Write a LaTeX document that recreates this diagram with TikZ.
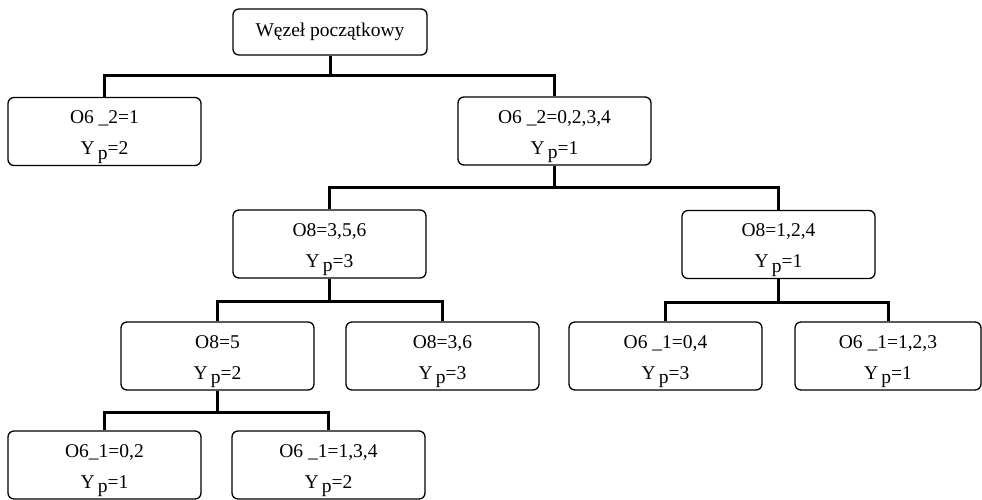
\documentclass[tikz,border=0pt]{standalone}
\usepackage{fontspec}
\setmainfont{Liberation Serif}
\newcommand{\Yp}[1]{Y\,\raisebox{-0.5ex}{p}=#1}
\newcommand{\Lt}{\rule{0pt}{24pt}}
\begin{document}
\begin{tikzpicture}[x=1pt,y=-1pt,
  box/.style={draw, line width=1.3pt, rounded corners=6pt, minimum width=193pt, minimum height=68pt,
    align=center, inner sep=0pt, font=\fontsize{19.5}{31}\selectfont},
  rootbox/.style={draw, line width=1.3pt, rounded corners=6pt, minimum width=194pt, minimum height=46pt,
    inner sep=0pt, font=\fontsize{19.5}{23}\selectfont},
  conn/.style={line width=3pt}]
\useasboundingbox (0,0) rectangle (982,499);
\node[rootbox] (root) at (330,32) {Węzeł początkowy};
\node[box] (A) at (104.5,131.5) {\Lt O6 \_2=1\\\Yp{2}};
\node[box] (B) at (554.5,131) {\Lt O6 \_2=0,2,3,4\\\Yp{1}};
\node[box] (C) at (329.5,244) {\Lt O8=3,5,6\\\Yp{3}};
\node[box] (D) at (778.5,244.5) {\Lt O8=1,2,4\\\Yp{1}};
\node[box] (E) at (217.5,356) {\Lt O8=5\\\Yp{2}};
\node[box] (F) at (442.5,356) {\Lt O8=3,6\\\Yp{3}};
\node[box] (G) at (665.5,356) {\Lt O6 \_1=0,4\\\Yp{3}};
\node[box, minimum width=186pt] (H) at (888,356) {\Lt O6 \_1=1,2,3\\\Yp{1}};
\node[box] (I) at (104.5,465) {\Lt O6\_1=0,2\\\Yp{1}};
\node[box] (J) at (328.5,465) {\Lt O6 \_1=1,3,4\\\Yp{2}};
\path (root.south) ++(0,20) coordinate (r1);
\path (B.south) ++(0,22) coordinate (r2);
\path (C.south) ++(0,23) coordinate (r3);
\path (D.south) ++(0,23) coordinate (r4);
\path (E.south) ++(0,22) coordinate (r5);
\draw[conn] (root.south) -- (r1);
\draw[conn] (A.north) |- (r1) -| (B.north);
\draw[conn] (B.south) -- (r2);
\draw[conn] (C.north) |- (r2) -| (D.north);
\draw[conn] (C.south) -- (r3);
\draw[conn] (E.north) |- (r3) -| (F.north);
\draw[conn] (D.south) -- (r4);
\draw[conn] (G.north) |- (r4) -| (H.north);
\draw[conn] (E.south) -- (r5);
\draw[conn] (I.north) |- (r5) -| (J.north);
\end{tikzpicture}
\end{document}
